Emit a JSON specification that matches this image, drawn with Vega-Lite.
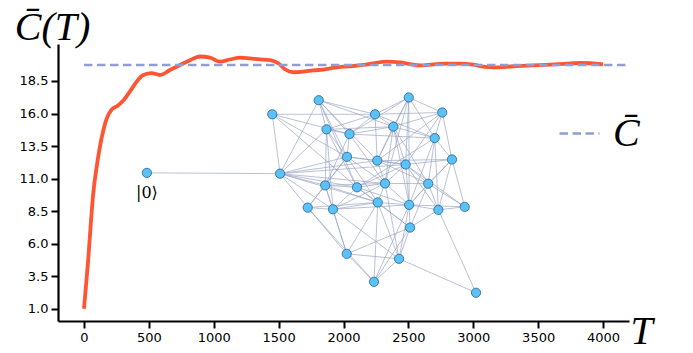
{
  "$schema": "https://vega.github.io/schema/vega-lite/v6.json",
  "width": 571,
  "height": 277,
  "autosize": {"type": "none"},
  "padding": {"left": 58, "top": 44, "right": 64, "bottom": 32},
  "background": "white",
  "config": {
    "view": {"stroke": null},
    "axis": {
      "grid": false,
      "domainColor": "black",
      "domainWidth": 2.2,
      "tickColor": "black",
      "tickWidth": 2,
      "tickSize": 7,
      "labelFont": "DejaVu Sans",
      "labelFontSize": 13,
      "labelColor": "black",
      "labelPadding": 3,
      "labelOverlap": false,
      "labelFlush": false,
      "titleFont": "Liberation Serif",
      "titleFontStyle": "italic",
      "titleFontWeight": "normal",
      "titleFontSize": 40,
      "titleColor": "black"
    }
  },
  "datasets": {
    "nodes": [
      {"id": 0, "T": 485, "C": 11.44},
      {"id": 1, "T": 1451, "C": 15.94},
      {"id": 2, "T": 1809, "C": 17.02},
      {"id": 3, "T": 2243, "C": 15.94},
      {"id": 4, "T": 1869, "C": 14.78},
      {"id": 5, "T": 2046, "C": 14.42},
      {"id": 6, "T": 2027, "C": 12.67},
      {"id": 7, "T": 2260, "C": 12.38},
      {"id": 8, "T": 1511, "C": 11.38},
      {"id": 9, "T": 1859, "C": 10.48},
      {"id": 10, "T": 2104, "C": 10.33},
      {"id": 11, "T": 2503, "C": 17.23},
      {"id": 12, "T": 2761, "C": 16.08},
      {"id": 13, "T": 2384, "C": 14.99},
      {"id": 14, "T": 2703, "C": 14.11},
      {"id": 15, "T": 2479, "C": 12.08},
      {"id": 16, "T": 2836, "C": 12.47},
      {"id": 17, "T": 2320, "C": 10.63},
      {"id": 18, "T": 2653, "C": 10.61},
      {"id": 19, "T": 1724, "C": 8.77},
      {"id": 20, "T": 1919, "C": 8.64},
      {"id": 21, "T": 2264, "C": 9.17},
      {"id": 22, "T": 2506, "C": 8.98},
      {"id": 23, "T": 2731, "C": 8.60},
      {"id": 24, "T": 2934, "C": 8.83},
      {"id": 25, "T": 2513, "C": 7.24},
      {"id": 26, "T": 2025, "C": 5.22},
      {"id": 27, "T": 2428, "C": 4.84},
      {"id": 28, "T": 2235, "C": 3.07},
      {"id": 29, "T": 3021, "C": 2.23}
    ],
    "edges": [
      {"s": 0, "t": 8},
      {"s": 1, "t": 3}, {"s": 1, "t": 8}, {"s": 1, "t": 6}, {"s": 1, "t": 10}, {"s": 1, "t": 5},
      {"s": 2, "t": 3}, {"s": 2, "t": 8}, {"s": 2, "t": 6}, {"s": 2, "t": 5}, {"s": 2, "t": 13}, {"s": 2, "t": 7}, {"s": 2, "t": 4}, {"s": 2, "t": 10},
      {"s": 3, "t": 11}, {"s": 3, "t": 12}, {"s": 3, "t": 13}, {"s": 3, "t": 4}, {"s": 3, "t": 5}, {"s": 3, "t": 14}, {"s": 3, "t": 7},
      {"s": 4, "t": 5}, {"s": 4, "t": 6}, {"s": 4, "t": 13}, {"s": 4, "t": 10}, {"s": 4, "t": 20}, {"s": 4, "t": 8}, {"s": 4, "t": 9},
      {"s": 5, "t": 6}, {"s": 5, "t": 13}, {"s": 5, "t": 17}, {"s": 5, "t": 14}, {"s": 5, "t": 11},
      {"s": 6, "t": 7}, {"s": 6, "t": 17}, {"s": 6, "t": 15}, {"s": 6, "t": 21}, {"s": 6, "t": 8}, {"s": 6, "t": 9}, {"s": 6, "t": 19},
      {"s": 7, "t": 13}, {"s": 7, "t": 15}, {"s": 7, "t": 17}, {"s": 7, "t": 18}, {"s": 7, "t": 16}, {"s": 7, "t": 8}, {"s": 7, "t": 11}, {"s": 7, "t": 12},
      {"s": 8, "t": 9}, {"s": 8, "t": 10}, {"s": 8, "t": 19}, {"s": 8, "t": 20}, {"s": 8, "t": 17}, {"s": 8, "t": 15}, {"s": 8, "t": 21},
      {"s": 9, "t": 10}, {"s": 9, "t": 17}, {"s": 9, "t": 5}, {"s": 9, "t": 20}, {"s": 9, "t": 19}, {"s": 9, "t": 21}, {"s": 9, "t": 26},
      {"s": 10, "t": 17}, {"s": 10, "t": 21}, {"s": 10, "t": 22}, {"s": 10, "t": 15}, {"s": 10, "t": 20}, {"s": 10, "t": 14}, {"s": 10, "t": 25},
      {"s": 11, "t": 12}, {"s": 11, "t": 13}, {"s": 11, "t": 15}, {"s": 11, "t": 22}, {"s": 11, "t": 17}, {"s": 11, "t": 14},
      {"s": 12, "t": 14}, {"s": 12, "t": 16}, {"s": 12, "t": 13}, {"s": 12, "t": 15},
      {"s": 13, "t": 14}, {"s": 13, "t": 15}, {"s": 13, "t": 18}, {"s": 13, "t": 22}, {"s": 13, "t": 17},
      {"s": 14, "t": 16}, {"s": 14, "t": 23}, {"s": 14, "t": 22}, {"s": 14, "t": 18},
      {"s": 15, "t": 16}, {"s": 15, "t": 18}, {"s": 15, "t": 17}, {"s": 15, "t": 22}, {"s": 15, "t": 23}, {"s": 15, "t": 24},
      {"s": 16, "t": 24}, {"s": 16, "t": 23}, {"s": 16, "t": 18}, {"s": 16, "t": 22},
      {"s": 17, "t": 18}, {"s": 17, "t": 22}, {"s": 17, "t": 21}, {"s": 17, "t": 27}, {"s": 17, "t": 20},
      {"s": 18, "t": 22}, {"s": 18, "t": 23}, {"s": 18, "t": 24}, {"s": 18, "t": 25},
      {"s": 19, "t": 20}, {"s": 19, "t": 26}, {"s": 19, "t": 21}, {"s": 19, "t": 28},
      {"s": 20, "t": 26}, {"s": 20, "t": 27}, {"s": 20, "t": 21}, {"s": 20, "t": 22},
      {"s": 21, "t": 28}, {"s": 21, "t": 26}, {"s": 21, "t": 25}, {"s": 21, "t": 22}, {"s": 21, "t": 27},
      {"s": 22, "t": 23}, {"s": 22, "t": 25}, {"s": 22, "t": 27}, {"s": 22, "t": 28}, {"s": 22, "t": 24},
      {"s": 23, "t": 29}, {"s": 23, "t": 24}, {"s": 23, "t": 25},
      {"s": 25, "t": 26}, {"s": 25, "t": 28}, {"s": 25, "t": 27},
      {"s": 26, "t": 27}, {"s": 26, "t": 28}, {"s": 27, "t": 28}, {"s": 27, "t": 29}
    ],
    "curve": [
      {"T": 0, "C": 1.0}, {"T": 15, "C": 2.7}, {"T": 33, "C": 4.8}, {"T": 51, "C": 7.3},
      {"T": 72, "C": 9.9}, {"T": 98, "C": 11.9}, {"T": 123, "C": 13.45}, {"T": 149, "C": 14.7},
      {"T": 175, "C": 15.6}, {"T": 213, "C": 16.3}, {"T": 260, "C": 16.6}, {"T": 303, "C": 17.0},
      {"T": 355, "C": 17.7}, {"T": 406, "C": 18.45}, {"T": 457, "C": 18.96}, {"T": 522, "C": 19.1},
      {"T": 586, "C": 18.96}, {"T": 663, "C": 19.34}, {"T": 740, "C": 19.73}, {"T": 817, "C": 20.1},
      {"T": 894, "C": 20.38}, {"T": 971, "C": 20.3}, {"T": 1048, "C": 19.98}, {"T": 1125, "C": 20.15},
      {"T": 1202, "C": 20.3}, {"T": 1279, "C": 20.24}, {"T": 1356, "C": 20.16}, {"T": 1434, "C": 20.11},
      {"T": 1498, "C": 19.86}, {"T": 1549, "C": 19.4}, {"T": 1613, "C": 19.17}, {"T": 1690, "C": 19.21},
      {"T": 1767, "C": 19.32}, {"T": 1844, "C": 19.37}, {"T": 1921, "C": 19.5}, {"T": 1998, "C": 19.6},
      {"T": 2076, "C": 19.65}, {"T": 2153, "C": 19.73}, {"T": 2230, "C": 19.86}, {"T": 2333, "C": 19.98},
      {"T": 2435, "C": 19.92}, {"T": 2513, "C": 19.8}, {"T": 2590, "C": 19.7}, {"T": 2692, "C": 19.78},
      {"T": 2795, "C": 19.83}, {"T": 2898, "C": 19.83}, {"T": 3000, "C": 19.75}, {"T": 3077, "C": 19.6},
      {"T": 3155, "C": 19.55}, {"T": 3232, "C": 19.57}, {"T": 3335, "C": 19.65}, {"T": 3463, "C": 19.7},
      {"T": 3592, "C": 19.75}, {"T": 3720, "C": 19.83}, {"T": 3823, "C": 19.88}, {"T": 3900, "C": 19.86},
      {"T": 4000, "C": 19.78}
    ],
    "mean": [
      {"T": 0, "C": 19.73},
      {"T": 4185, "C": 19.73}
    ],
    "label": [
      {"T": 485, "C": 9.9, "text": "|0⟩"}
    ]
  },
  "layer": [
    {
      "data": {"name": "curve"},
      "mark": {"type": "line", "color": "#FF5533", "strokeWidth": 3.8, "interpolate": "monotone"},
      "encoding": {
        "x": {
          "field": "T", "type": "quantitative",
          "scale": {"domain": [-200, 4200], "nice": false, "zero": false},
          "axis": {
            "values": [0, 500, 1000, 1500, 2000, 2500, 3000, 3500, 4000],
            "tickCount": 30,
            "format": "d",
            "title": "T",
            "titleX": 583, "titleY": 22,
            "titleAlign": "center", "titleBaseline": "alphabetic", "titleAnchor": null
          }
        },
        "y": {
          "field": "C", "type": "quantitative",
          "scale": {"domain": [0.06, 21.34], "nice": false, "zero": false},
          "axis": {
            "values": [1, 3.5, 6, 8.5, 11, 13.5, 16, 18.5],
            "tickCount": 30,
            "format": ".1f",
            "title": "C̄(T)",
            "titleAngle": 0,
            "titleX": -6, "titleY": -5,
            "titleAlign": "center", "titleBaseline": "alphabetic", "titleAnchor": null
          }
        }
      }
    },
    {
      "data": {"name": "mean"},
      "mark": {"type": "line", "strokeWidth": 2.5, "strokeDash": [8.5, 4.5]},
      "encoding": {
        "x": {"field": "T", "type": "quantitative", "title": "T"},
        "y": {"field": "C", "type": "quantitative", "title": "C̄(T)"},
        "stroke": {
          "datum": "C̄", "type": "nominal",
          "scale": {"range": ["#8F9FD4"]},
          "legend": {
            "orient": "none", "legendX": 500, "legendY": 68,
            "title": null,
            "symbolType": "stroke", "symbolSize": 1600, "symbolStrokeWidth": 2.5,
            "symbolDash": [8.5, 4.5], "symbolStrokeColor": "#8F9FD4",
            "labelFont": "Liberation Serif", "labelFontStyle": "italic",
            "labelFontSize": 40, "labelColor": "black", "labelOffset": 12, "labelLimit": 0
          }
        }
      }
    },
    {
      "data": {"name": "edges"},
      "transform": [
        {"lookup": "s", "from": {"data": {"name": "nodes"}, "key": "id", "fields": ["T", "C"]}, "as": ["sx", "sy"]},
        {"lookup": "t", "from": {"data": {"name": "nodes"}, "key": "id", "fields": ["T", "C"]}, "as": ["tx", "ty"]}
      ],
      "mark": {"type": "rule", "color": "#98A3C2", "strokeWidth": 0.8, "opacity": 0.85},
      "encoding": {
        "x": {"field": "sx", "type": "quantitative", "title": "T"},
        "y": {"field": "sy", "type": "quantitative", "title": "C̄(T)"},
        "x2": {"field": "tx"},
        "y2": {"field": "ty"}
      }
    },
    {
      "data": {"name": "nodes"},
      "mark": {"type": "point", "shape": "circle", "filled": true, "size": 85, "fill": "#5BC2F7", "stroke": "#2C6E9E", "strokeWidth": 0.9, "opacity": 1},
      "encoding": {
        "x": {"field": "T", "type": "quantitative", "title": "T"},
        "y": {"field": "C", "type": "quantitative", "title": "C̄(T)"}
      }
    },
    {
      "data": {"name": "label"},
      "mark": {"type": "text", "font": "DejaVu Serif", "fontSize": 16, "color": "black", "align": "center", "baseline": "middle"},
      "encoding": {
        "x": {"field": "T", "type": "quantitative", "title": "T"},
        "y": {"field": "C", "type": "quantitative", "title": "C̄(T)"},
        "text": {"field": "text"}
      }
    }
  ]
}
